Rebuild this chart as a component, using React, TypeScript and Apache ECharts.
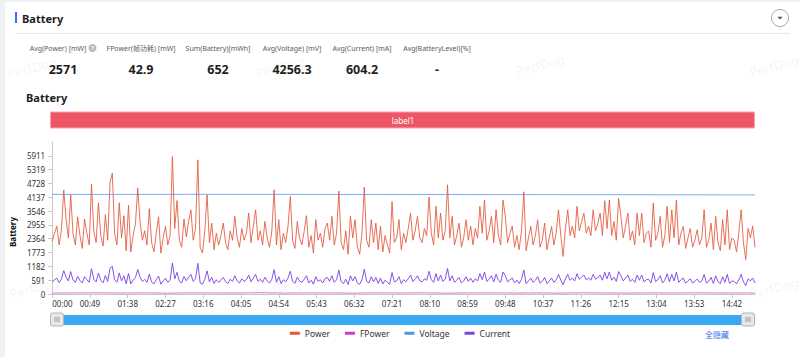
import React, { useEffect, useRef } from 'react';
import * as echarts from 'echarts';

// ---------- data ----------
const SAMPLE_STEP = 3; // seconds between Power / Current samples
const X_MAX = 912; // seconds covered by the record

const power = [
  2250, 2600, 2900, 2100, 2750, 4450, 3200, 2400, 4250, 2600, 2100, 3300, 2500, 1950, 3200, 2600, 2100, 4700, 2700, 2200,
  3900, 2500, 2050, 3400, 2300, 4750, 5170, 2600, 2100, 3900, 2400, 3350, 1850, 3800, 1800, 2500, 3000, 4530, 3100, 2300,
  2700, 2100, 3650, 2200, 1800, 2600, 3300, 1750, 2400, 2900, 2100, 2500, 5880, 2800, 4000, 2300, 2000, 3200, 2450, 3100,
  3600, 2300, 2800, 5740, 2000, 1750, 2700, 4240, 2200, 3030, 1900, 2600, 2100, 2500, 3030, 2200, 1900, 2700, 2300, 3320,
  2400, 2000, 2800, 2300, 2600, 3460, 2200, 2900, 3600, 2300, 2700, 2100, 3100, 2400, 2000, 2700, 4457, 2100, 3180, 1900,
  2600, 2200, 2900, 4170, 2300, 1950, 3100, 2400, 2100, 2700, 3350, 2000, 2500, 1750, 3180, 2300, 2600, 2000, 2800, 3030,
  2300, 3320, 2100, 2600, 4400, 2200, 1900, 2700, 1700, 3320, 2400, 3180, 2000, 1700, 2600, 4570, 2300, 2000, 3180, 2200,
  3030, 1900, 2900, 1800, 2500, 2100, 1750, 3950, 2200, 2400, 3180, 1900, 2600, 2200, 2800, 3460, 2300, 2700, 3320, 2400,
  2200, 2800, 2500, 4150, 2600, 2100, 3750, 2400, 3460, 2300, 2700, 4670, 2400, 3320, 2100, 2500, 3030, 2000, 2400, 3180,
  2300, 2900, 2100, 2800, 2400, 3750, 2600, 4020, 2300, 2700, 3320, 2200, 3600, 2500, 2100, 4020, 3320, 2200, 2600, 2900,
  2000, 2500, 1900, 2700, 4370, 1850, 2400, 2900, 2100, 2500, 3180, 2000, 2300, 3030, 1900, 2400, 2890, 2100, 2600, 3600,
  2500, 1610, 2800, 3600, 2500, 2900, 2400, 3750, 2700, 3100, 3460, 2600, 2900, 2500, 3600, 2700, 3000, 3460, 2500, 3990,
  2800, 4020, 2500, 3100, 2300, 4090, 3320, 2400, 2900, 3460, 2300, 2700, 2100, 3460, 2500, 3460, 2200, 2600, 2700, 2000,
  3890, 2300, 2600, 3320, 2000, 2500, 3750, 2200, 3600, 2400, 4020, 2100, 2600, 2890, 1950, 2400, 2800, 2000, 2300, 2750,
  2100, 2400, 3600, 2000, 2300, 3030, 1900, 3320, 2200, 1850, 3180, 2100, 3600, 1900, 2400, 2300, 1800, 2600, 3600, 2200,
  1470, 2800, 2400, 2900, 2000,
];

const current = [
  520, 610, 680, 490, 640, 1000, 720, 560, 960, 600, 500, 760, 580, 470, 740, 610, 500, 1080, 630, 520,
  900, 590, 480, 790, 540, 1100, 1180, 610, 500, 900, 560, 780, 440, 880, 430, 590, 700, 1050, 720, 540,
  630, 500, 850, 520, 430, 610, 770, 420, 560, 680, 500, 590, 1330, 650, 930, 540, 470, 750, 570, 720,
  840, 540, 650, 1310, 470, 420, 630, 990, 520, 710, 450, 610, 500, 590, 710, 520, 450, 630, 540, 780,
  560, 470, 650, 540, 610, 810, 520, 680, 840, 540, 630, 500, 720, 560, 470, 630, 1040, 500, 740, 450,
  610, 520, 680, 970, 540, 460, 720, 560, 500, 630, 780, 470, 590, 420, 740, 540, 610, 470, 650, 710,
  540, 780, 500, 610, 1020, 520, 450, 630, 410, 780, 560, 740, 470, 410, 610, 1060, 540, 470, 740, 520,
  710, 450, 680, 430, 590, 500, 420, 920, 520, 560, 740, 450, 610, 520, 650, 810, 540, 630, 780, 560,
  520, 650, 590, 970, 610, 500, 870, 560, 810, 540, 630, 1090, 560, 780, 500, 590, 710, 470, 560, 740,
  540, 680, 500, 650, 560, 870, 610, 940, 540, 630, 780, 520, 840, 590, 500, 940, 780, 520, 610, 680,
  470, 590, 450, 630, 1020, 440, 560, 680, 500, 590, 740, 470, 540, 710, 450, 560, 680, 500, 610, 840,
  590, 400, 650, 840, 590, 680, 560, 870, 630, 720, 810, 610, 680, 590, 840, 630, 700, 810, 590, 930,
  650, 940, 590, 720, 540, 960, 780, 560, 680, 810, 540, 630, 500, 810, 590, 810, 520, 610, 630, 470,
  910, 540, 610, 780, 470, 590, 870, 520, 840, 560, 940, 500, 610, 680, 460, 560, 650, 470, 540, 640,
  500, 560, 840, 470, 540, 710, 450, 780, 520, 440, 740, 500, 840, 450, 560, 540, 430, 610, 840, 520,
  360, 650, 560, 680, 470,
];

const slowTimes = [
  0, 30, 60, 90, 120, 150, 180, 210, 240, 270, 300, 330, 360, 390, 420, 450,
  480, 510, 540, 570, 600, 630, 660, 690, 720, 750, 780, 810, 840, 870, 900, 912,
];
const voltage = [
  4262, 4260, 4258, 4261, 4259, 4262, 4264, 4263, 4261, 4260, 4262, 4259, 4258, 4257, 4259, 4256,
  4255, 4257, 4254, 4252, 4251, 4253, 4250, 4248, 4249, 4246, 4245, 4243, 4244, 4241, 4240, 4238,
];
const fpower = [
  38, 45, 52, 40, 47, 35, 50, 43, 41, 55, 39, 46, 44, 37, 49, 42,
  51, 36, 44, 48, 40, 45, 38, 53, 42, 39, 47, 43, 50, 41, 44, 40,
];

const xTickLabels = [
  '00:00', '00:49', '01:38', '02:27', '03:16', '04:05', '04:54', '05:43', '06:32', '07:21',
  '08:10', '08:59', '09:48', '10:37', '11:26', '12:15', '13:04', '13:53', '14:42',
];
const yTickLabels = ['0', '591', '1182', '1773', '2364', '2955', '3546', '4137', '4728', '5319', '5911'];
const Y_STEP = 591.1;

const seriesNames = ['Power', 'FPower', 'Voltage', 'Current'];
const seriesColors = ['#e4573b', '#cc3fc4', '#4d93f0', '#7b3fe8'];

const statLabels = [
  'Avg(Power) [mW]', 'FPower(帧功耗) [mW]', 'Sum(Battery)[mWh]',
  'Avg(Voltage) [mV]', 'Avg(Current) [mA]', 'Avg(BatteryLevel)[%]',
];
const statValues = ['2571', '42.9', '652', '4256.3', '604.2', '-'];

// ---------- layout ----------
const FONT = '"Noto Sans", "Noto Sans CJK SC", sans-serif';
const statCenters = [63, 141, 218, 292, 362, 437];
const watermarkPos = [
  [32, 68], [280, 67], [540, 65], [774, 66],
  [34, 288], [277, 288], [535, 289], [774, 288],
];

const toSec = (l: string) => {
  const [m, s] = l.split(':').map(Number);
  return m * 60 + s;
};
const fmtTime = (v: number) => {
  const m = Math.floor(v / 60);
  const s = Math.round(v - m * 60);
  return `${String(m).padStart(2, '0')}:${String(s).padStart(2, '0')}`;
};

export default function App() {
  const ref = useRef<HTMLDivElement>(null);

  useEffect(() => {
    if (!ref.current) return;
    const chart = echarts.init(ref.current, null, { renderer: 'svg' });

    const xTicks = xTickLabels.map(toSec);
    const yTicks = yTickLabels.map((_, i) => i * Y_STEP);

    const graphic: any[] = [];
    // page background strips
    graphic.push({ type: 'rect', z: -20, shape: { x: 0, y: 0, width: 5, height: 357 }, style: { fill: '#eff1f5' } });
    graphic.push({ type: 'rect', z: -20, shape: { x: 0, y: 0, width: 800, height: 2 }, style: { fill: '#eff1f5' } });
    // watermarks
    watermarkPos.forEach(([x, y]) => {
      graphic.push({
        type: 'text', x, y, rotation: 0.26, z: -10, silent: true,
        style: { text: 'PerfDog', fontSize: 13, fontFamily: FONT, fill: 'rgba(0,0,0,0.065)', align: 'center', verticalAlign: 'middle' },
      });
    });
    // header
    graphic.push({ type: 'rect', shape: { x: 15, y: 12, width: 2, height: 11 }, style: { fill: '#3370ff' } });
    graphic.push({
      type: 'text', x: 22, y: 18,
      style: { text: 'Battery', fontSize: 11, fontWeight: 'bold', fontFamily: FONT, fill: '#1f1f1f', align: 'left', verticalAlign: 'middle' },
    });
    graphic.push({ type: 'rect', shape: { x: 15, y: 33, width: 775, height: 1 }, style: { fill: '#e8e8ec' } });
    graphic.push({ type: 'circle', shape: { cx: 780, cy: 18, r: 8.5 }, style: { fill: '#fff', stroke: '#a8a8b0', lineWidth: 1 } });
    graphic.push({ type: 'polygon', shape: { points: [[777.3, 16.8], [782.7, 16.8], [780, 19.6]] }, style: { fill: '#555' } });
    // stats
    statLabels.forEach((t, i) => {
      const cx = i === 0 ? statCenters[i] - 5 : statCenters[i];
      graphic.push({
        type: 'text', x: cx, y: 48,
        style: { text: t, fontSize: 7, fontFamily: FONT, fill: '#5c5c5c', align: 'center', verticalAlign: 'middle' },
      });
      graphic.push({
        type: 'text', x: statCenters[i], y: 69,
        style: { text: statValues[i], fontSize: 12.5, fontWeight: 'bold', fontFamily: FONT, fill: '#1f1f1f', align: 'center', verticalAlign: 'middle' },
      });
    });
    graphic.push({ type: 'circle', shape: { cx: 92.5, cy: 48, r: 4 }, style: { fill: '#b8b8be' } });
    graphic.push({
      type: 'text', x: 92.5, y: 48.3,
      style: { text: '?', fontSize: 6, fontWeight: 'bold', fontFamily: FONT, fill: '#fff', align: 'center', verticalAlign: 'middle' },
    });
    // chart title
    graphic.push({
      type: 'text', x: 26, y: 97,
      style: { text: 'Battery', fontSize: 11, fontWeight: 'bold', fontFamily: FONT, fill: '#1f1f1f', align: 'left', verticalAlign: 'middle' },
    });
    // label bar
    graphic.push({ type: 'rect', shape: { x: 50.5, y: 112, width: 704, height: 16 }, style: { fill: '#ee5565', stroke: '#f6a3ad', lineWidth: 1 } });
    graphic.push({
      type: 'text', x: 403, y: 120,
      style: { text: 'label1', fontSize: 8, fontFamily: FONT, fill: '#fff', align: 'center', verticalAlign: 'middle' },
    });
    // slider
    graphic.push({ type: 'rect', shape: { x: 50, y: 315, width: 705, height: 10 }, style: { fill: '#37a9f2' } });
    [50.5, 741.5].forEach((hx) => {
      graphic.push({ type: 'rect', shape: { x: hx, y: 313, width: 13, height: 13, r: 2 }, style: { fill: '#e8e8ea', stroke: '#b5b5b8', lineWidth: 1 } });
      [-2, 0, 2].forEach((d) => {
        graphic.push({ type: 'line', shape: { x1: hx + 6.5 + d, y1: 317, x2: hx + 6.5 + d, y2: 322 }, style: { stroke: '#8a8a8e', lineWidth: 0.8 } });
      });
    });
    // hide-all link
    graphic.push({
      type: 'text', x: 717, y: 334,
      style: { text: '全隐藏', fontSize: 8, fontFamily: FONT, fill: '#2f6ae8', align: 'center', verticalAlign: 'middle' },
    });

    const lineSeries = (name: string, color: string, data: number[][], opacity: number) => ({
      name, type: 'line', data, showSymbol: false, symbol: 'none', silent: true,
      lineStyle: { width: 1, color, opacity }, itemStyle: { color },
    });

    chart.setOption({
      animation: false,
      backgroundColor: '#fff',
      textStyle: { fontFamily: FONT },
      grid: { left: 50, right: 45, top: 142, bottom: 63 },
      legend: {
        data: seriesNames,
        top: 329, left: 'center',
        icon: 'rect', itemWidth: 10, itemHeight: 3, itemGap: 15, padding: 0,
        textStyle: { fontSize: 8.5, color: '#333', fontFamily: FONT },
      },
      xAxis: {
        type: 'value', min: 0, max: X_MAX,
        axisLine: { show: true, lineStyle: { color: '#c8c8c8' } },
        axisTick: { show: true, customValues: xTicks, length: 4, lineStyle: { color: '#c8c8c8' } },
        axisLabel: { customValues: xTicks, formatter: fmtTime, fontSize: 8, color: '#333', margin: 5, alignMinLabel: 'left', fontFamily: FONT },
        splitLine: { show: false },
      },
      yAxis: {
        type: 'value', min: 0, max: Y_STEP * 11,
        name: 'Battery', nameLocation: 'middle', nameGap: 31, nameRotate: 90,
        nameTextStyle: { fontSize: 8, fontWeight: 'bold', color: '#111', padding: [0, 28, 0, 0], fontFamily: FONT },
        axisLine: { show: true, lineStyle: { color: '#c8c8c8' } },
        axisTick: { show: true, customValues: yTicks, length: 4, lineStyle: { color: '#c8c8c8' } },
        axisLabel: {
          customValues: yTicks,
          formatter: (v: number) => yTickLabels[Math.round(v / Y_STEP)] ?? '',
          fontSize: 8, color: '#333', margin: 7, fontFamily: FONT,
        },
        splitLine: { show: false },
      },
      series: [
        lineSeries(seriesNames[0], seriesColors[0], power.map((v, i) => [i * SAMPLE_STEP, v]), 0.85),
        lineSeries(seriesNames[1], seriesColors[1], fpower.map((v, i) => [slowTimes[i], v]), 0.7),
        lineSeries(seriesNames[2], seriesColors[2], voltage.map((v, i) => [slowTimes[i], v]), 0.75),
        lineSeries(seriesNames[3], seriesColors[3], current.map((v, i) => [i * SAMPLE_STEP, v]), 0.9),
      ],
      graphic: { elements: graphic },
    });

    return () => chart.dispose();
  }, []);

  return <div ref={ref} style={{ position: 'absolute', left: 0, top: 0, width: 800, height: 357 }} />;
}
